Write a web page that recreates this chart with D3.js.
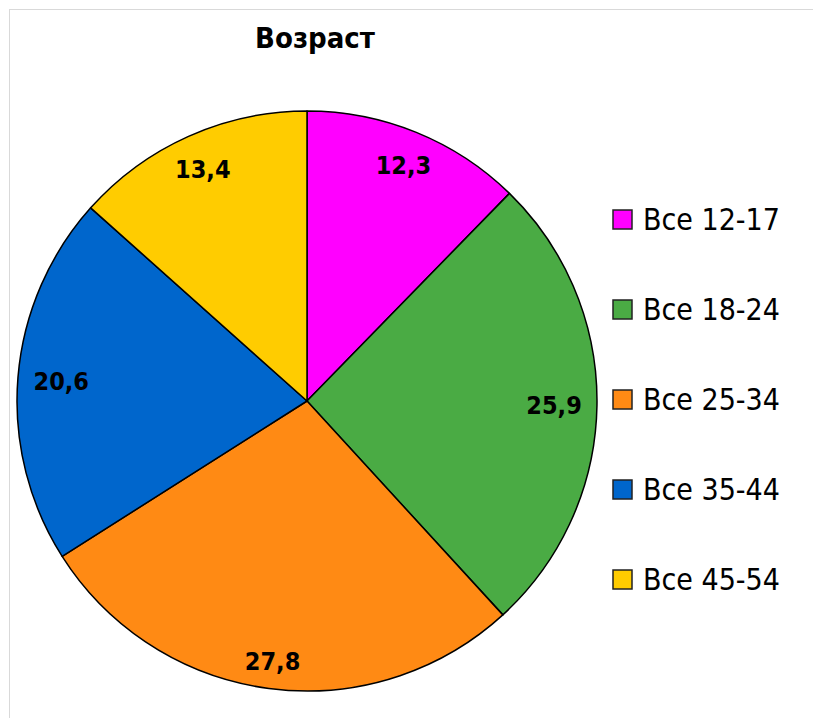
<!DOCTYPE html>
<html>
<head>
<meta charset="utf-8">
<script src="https://cdn.jsdelivr.net/npm/d3@7"></script>
<style>
  body { margin: 0; background: #fff; }
  svg text { font-family: "DejaVu Sans", sans-serif; font-stretch: condensed; }
</style>
</head>
<body>
<svg id="chart" width="813" height="718"></svg>
<script>
const title = 'Возраст'
const categories = ['Все 12-17', 'Все 18-24', 'Все 25-34', 'Все 35-44', 'Все 45-54']
const values = [12.3, 25.9, 27.8, 20.6, 13.4]
const colors = ['#ff00ff', '#4aab44', '#ff8a14', '#0066cc', '#ffcc00']

const W = 813, H = 718
const cx = 307, cy = 401, R = 290

const svg = d3.select('svg#chart')

// light frame, runs off the right/bottom edges
svg.append('rect')
  .attr('x', 9.5).attr('y', 9.5)
  .attr('width', W + 20).attr('height', H + 20)
  .attr('fill', 'none')
  .attr('stroke', '#d9d9d9')

svg.append('text')
  .attr('x', 315).attr('y', 48)
  .attr('text-anchor', 'middle')
  .attr('font-size', 29)
  .attr('font-weight', 'bold')
  .text(title)

const rows = categories.map((c, i) => ({ name: c, value: values[i], color: colors[i] }))

const pie = d3.pie().value(d => d.value).sort(null)
const arc = d3.arc().innerRadius(0).outerRadius(R)

const g = svg.append('g').attr('transform', `translate(${cx},${cy})`)

const slices = pie(rows)

g.selectAll('path')
  .data(slices)
  .enter()
  .append('path')
  .attr('d', arc)
  .attr('fill', d => d.data.color)
  .attr('stroke', '#000')
  .attr('stroke-width', 1.5)
  .attr('stroke-linejoin', 'round')

// labels sit inside the outer edge, box pushed in so it clears the rim
const fmt = v => String(v).replace('.', ',')
g.selectAll('text.val')
  .data(slices)
  .enter()
  .append('text')
  .attr('class', 'val')
  .attr('text-anchor', 'middle')
  .attr('font-size', 25)
  .attr('font-weight', 'bold')
  .text(d => fmt(d.data.value))
  .each(function (d) {
    const w = this.getComputedTextLength()
    const h = 19
    const a = (d.startAngle + d.endAngle) / 2
    const s = Math.sin(a), c = -Math.cos(a)
    const support = Math.abs(s) * w / 2 + Math.abs(c) * h / 2
    const r = R - 15 - support
    d3.select(this)
      .attr('x', s * r)
      .attr('y', c * r + h / 2)
  })

const legend = svg.append('g').attr('transform', 'translate(613,210)')
const item = legend.selectAll('g')
  .data(rows)
  .enter()
  .append('g')
  .attr('transform', (d, i) => `translate(0,${i * 90})`)

item.append('rect')
  .attr('width', 19).attr('height', 19)
  .attr('fill', d => d.color)
  .attr('stroke', '#222')
  .attr('stroke-width', 1.5)

item.append('text')
  .attr('x', 30).attr('y', 20)
  .attr('font-size', 30)
  .text(d => d.name)
</script>
</body>
</html>
